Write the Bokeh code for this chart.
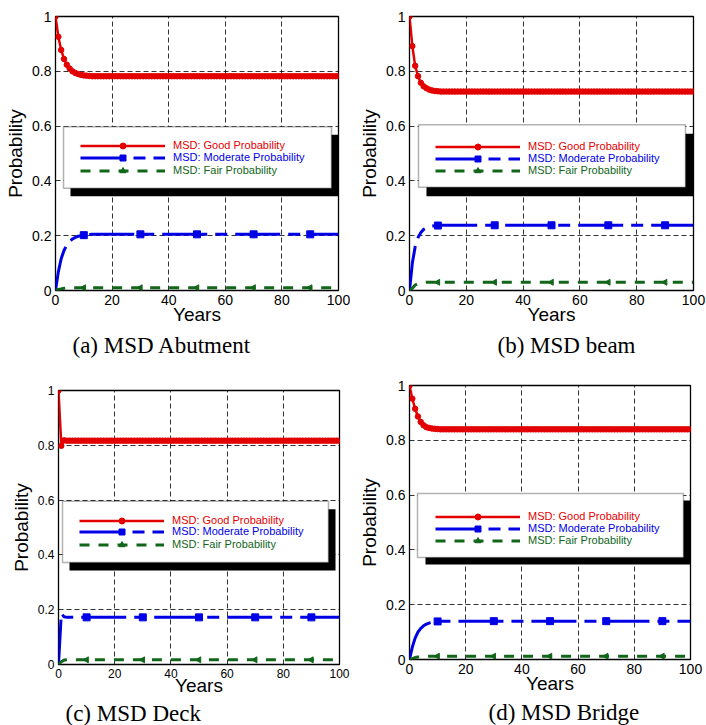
from bokeh.plotting import figure
from bokeh.layouts import column, row
from bokeh.models import (Range1d, FixedTicker, NumeralTickFormatter, BoxAnnotation,
                          Legend, LegendItem, Title)
from bokeh.embed import file_html
from bokeh.resources import INLINE

# ---------------- data ----------------
years = list(range(0, 101))
marker_years = [10, 30, 50, 70, 90]
x_ticks = [0, 20, 40, 60, 80, 100]
y_ticks = [0, 0.2, 0.4, 0.6, 0.8, 1.0]
legend_labels = ["MSD: Good Probability", "MSD: Moderate Probability", "MSD: Fair Probability"]
captions = ["(a) MSD Abutment", "(b) MSD beam", "(c) MSD Deck", "(d) MSD Bridge"]

good_abutment = [1.000, 0.926, 0.878, 0.845, 0.824, 0.810, 0.800, 0.794, 0.790, 0.787,
                 0.785, 0.784, 0.783] + [0.782] * 88
moderate_abutment = [0.000, 0.068, 0.116, 0.146, 0.166, 0.179, 0.188, 0.194, 0.198, 0.200,
                     0.202, 0.203, 0.204] + [0.205] * 88
fair_abutment = [0.000, 0.004, 0.006, 0.008, 0.009, 0.010, 0.010, 0.010, 0.010, 0.010,
                 0.010, 0.010, 0.010] + [0.010] * 88

good_beam = [1.000, 0.892, 0.820, 0.782, 0.758, 0.745, 0.738, 0.733, 0.730, 0.728,
             0.727] + [0.726] * 90
moderate_beam = [0.000, 0.100, 0.160, 0.193, 0.212, 0.223, 0.229, 0.233, 0.235, 0.236,
                 0.237] + [0.238] * 90
fair_beam = [0.000, 0.008, 0.020, 0.025, 0.028, 0.029, 0.030, 0.030, 0.030, 0.030,
             0.030] + [0.030] * 90

good_deck = [1.000, 0.798, 0.818] + [0.817] * 98
moderate_deck = [0.000, 0.187, 0.174] + [0.172] * 98
fair_deck = [0.000, 0.010, 0.016] + [0.017] * 98

good_bridge = [1.000, 0.952, 0.915, 0.887, 0.867, 0.855, 0.848, 0.845, 0.843, 0.842,
               0.841] + [0.840] * 90
moderate_bridge = [0.000, 0.045, 0.078, 0.100, 0.114, 0.123, 0.129, 0.133, 0.136, 0.138,
                   0.139] + [0.140] * 90
fair_bridge = [0.000, 0.003, 0.007, 0.009, 0.010, 0.011, 0.012, 0.012, 0.012, 0.012,
               0.012] + [0.012] * 90

# ---------------- styles / layout (page pixels) ----------------
RED = "#e30000"
BLUE = "#0000e6"
GREEN = "#11661a"
SANS = "Liberation Sans"
SERIF = "Liberation Serif"

layouts = [
    dict(fig=(0, 0, 350, 360), frame=(55, 16, 338, 292), box=(63, 127, 331, 189), shadow=(7, 8),
         rows=(147, 159, 172), line_x=80, cap_x=72, cap_standoff=6, xlab_standoff=-4, tick_fs="14px"),
    dict(fig=(350, 0, 356, 360), frame=(409, 16, 693, 292), box=(418, 125, 685, 188), shadow=(8, 9),
         rows=(148, 160, 172), line_x=435, cap_x=497, cap_standoff=6, xlab_standoff=-4, tick_fs="14px"),
    dict(fig=(0, 360, 350, 365), frame=(58, 390, 339, 667), box=(62, 502, 328, 564), shadow=(7, 8),
         rows=(523, 534, 547), line_x=79, cap_x=65, cap_standoff=0, xlab_standoff=-6, tick_fs="12px"),
    dict(fig=(350, 360, 356, 365), frame=(409, 385, 690, 659), box=(417, 493, 683, 557), shadow=(8, 7),
         rows=(516, 528, 540), line_x=435, cap_x=488, cap_standoff=2, xlab_standoff=-4, tick_fs="14px"),
]


def make_panel(good, moderate, fair, caption, L):
    fx, fy, W, H = L["fig"]
    fl, ft, fr, fb = L["frame"]
    p = figure(width=W, height=H, output_backend="svg", toolbar_location=None,
               x_range=Range1d(0, 100), y_range=Range1d(0, 1),
               min_border_left=fl - fx, min_border_right=fx + W - fr,
               min_border_top=ft - fy, min_border_bottom=fy + H - fb)
    p.background_fill_color = "white"
    p.border_fill_color = "white"
    p.outline_line_color = "black"
    p.outline_line_width = 1.3
    p.outline_line_alpha = 1.0

    def dx(px):
        return (px - fl) / (fr - fl) * 100.0

    def dy(py):
        return (fb - py) / (fb - ft)

    for ax in (p.xaxis[0], p.yaxis[0]):
        ax.axis_line_color = None
        ax.major_tick_in = 0
        ax.major_tick_out = 0
        ax.minor_tick_line_color = None
        ax.major_label_text_font = SANS
        ax.major_label_text_font_size = L["tick_fs"]
        ax.major_label_text_color = "black"
        ax.axis_label_text_font = SANS
        ax.axis_label_text_font_size = "19px"
        ax.axis_label_text_font_style = "normal"
        ax.axis_label_text_color = "black"
    p.xaxis.ticker = FixedTicker(ticks=x_ticks)
    p.yaxis.ticker = FixedTicker(ticks=y_ticks)
    p.yaxis.formatter = NumeralTickFormatter(format="0.[0]")
    p.xaxis.axis_label = "Years"
    p.yaxis.axis_label = "Probability"
    p.xaxis.major_label_standoff = 4
    p.xaxis.axis_label_standoff = L["xlab_standoff"]
    p.yaxis.major_label_standoff = 4
    p.yaxis.axis_label_standoff = 3

    for g in (p.xgrid[0], p.ygrid[0]):
        g.grid_line_color = "black"
        g.grid_line_dash = "5 3"
        g.grid_line_width = 1
        g.grid_line_alpha = 0.8

    # series
    r_good = p.line(years, good, line_color=RED, line_width=2.5)
    s_good = p.scatter(years, good, marker="circle", size=5.5, fill_color=RED, line_color=RED)
    r_mod = p.line(years, moderate, line_color=BLUE, line_width=3, line_dash="45 8 12 8")
    s_mod = p.scatter(marker_years, [moderate[y] for y in marker_years], marker="square",
                      size=7, fill_color=BLUE, line_color=BLUE)
    r_fair = p.line(years, fair, line_color=GREEN, line_width=3, line_dash="10 9")
    s_fair = p.scatter(marker_years, [fair[y] for y in marker_years], marker="triangle",
                       angle=90, angle_units="deg", size=6, fill_color=GREEN, line_color=GREEN)

    # legend frame with shadow
    bl, bt, br, bb = L["box"]
    sx, sy = L["shadow"]
    p.add_layout(BoxAnnotation(left=dx(bl + sx), right=dx(br + sx), top=dy(bt + sy), bottom=dy(bb + sy),
                               fill_color="black", fill_alpha=1.0, line_color=None, level="annotation"))
    p.add_layout(BoxAnnotation(left=dx(bl), right=dx(br), top=dy(bt), bottom=dy(bb),
                               fill_color="white", fill_alpha=1.0, line_color="black",
                               line_width=1.5, level="annotation"))

    items = [(legend_labels[0], [r_good, s_good], RED),
             (legend_labels[1], [r_mod, s_mod], BLUE),
             (legend_labels[2], [r_fair, s_fair], GREEN)]
    for (lab, rends, col), ry in zip(items, L["rows"]):
        lg = Legend(items=[LegendItem(label=lab, renderers=rends)],
                    location=(L["line_x"] - fl, fb - (ry + 7.5)),
                    orientation="vertical", padding=0, margin=0, spacing=0,
                    glyph_width=85, glyph_height=15, label_height=15, label_standoff=8,
                    label_text_font=SANS, label_text_font_size="11px", label_text_color=col,
                    border_line_color=None, background_fill_alpha=0.0)
        p.add_layout(lg, "center")

    p.add_layout(Title(text=caption, align="left", offset=L["cap_x"] - fl, standoff=L["cap_standoff"],
                       text_font=SERIF, text_font_size="23px", text_font_style="normal",
                       text_color="black"), "below")
    return p


pa = make_panel(good_abutment, moderate_abutment, fair_abutment, captions[0], layouts[0])
pb = make_panel(good_beam, moderate_beam, fair_beam, captions[1], layouts[1])
pc = make_panel(good_deck, moderate_deck, fair_deck, captions[2], layouts[2])
pd = make_panel(good_bridge, moderate_bridge, fair_bridge, captions[3], layouts[3])

# each figure wrapped on its own so that Bokeh does not align the frames across a row
page = column(row(column(pa), column(pb)), row(column(pc), column(pd)))
open("out.html", "w").write(file_html(page, INLINE))
